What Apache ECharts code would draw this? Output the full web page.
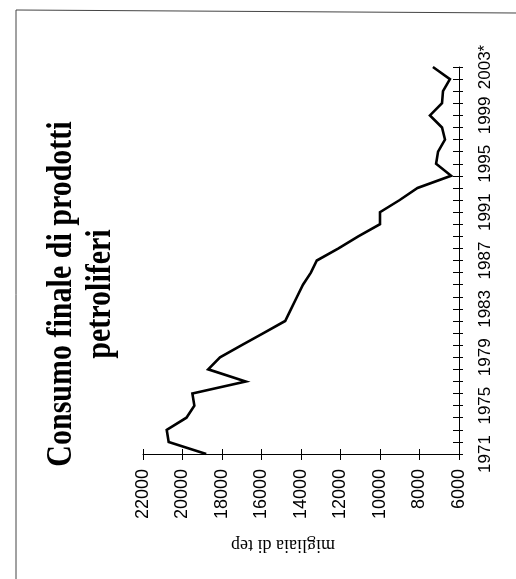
<!DOCTYPE html>
<html><head><meta charset="utf-8">
<script src="https://cdn.jsdelivr.net/npm/echarts@6/dist/echarts.min.js"></script>
<style>html,body{margin:0;padding:0;background:#fff}#c{width:516px;height:579px}</style>
</head><body><div id="c"></div>
<script>
// Years (category axis) — last one marked provisional
const years = ['1971','1972','1973','1974','1975','1976','1977','1978','1979','1980',
  '1981','1982','1983','1984','1985','1986','1987','1988','1989','1990',
  '1991','1992','1993','1994','1995','1996','1997','1998','1999','2000',
  '2001','2002','2003*'];
// Consumo finale di prodotti petroliferi (migliaia di tep)
const consumo = [18800,20700,20800,19800,19400,19500,16800,18700,18100,17000,
  15900,14800,14500,14200,13900,13500,13200,12100,11100,10000,
  10000,9000,8100,6400,7160,7060,6710,6860,7470,6860,
  6810,6460,7320];
const valueMin = 6000, valueMax = 22000, valueStep = 2000;
const titleText = 'Consumo finale di prodotti\npetroliferi';
const axisNameText = 'migliaia di tep';

const sans = "'Liberation Sans Narrow','Liberation Sans',Arial,sans-serif";
const serif = "'Liberation Serif','Times New Roman',serif";

const chart = echarts.init(document.getElementById('c'));
const valueAxisBase = {
  type: 'value', position: 'bottom', inverse: true,
  min: valueMin, max: valueMax, interval: valueStep,
  splitLine: {show: false}
};
const catAxisBase = {
  type: 'category', position: 'right', data: years, boundaryGap: false,
  splitLine: {show: false}
};
chart.setOption({
  animation: false,
  backgroundColor: '#fff',
  grid: {left: 143, right: 57, top: 67, bottom: 125, containLabel: false},
  xAxis: [
    Object.assign({}, valueAxisBase, {
      axisLine: {show: true, lineStyle: {color: '#000', width: 1}},
      axisTick: {show: true, inside: false, length: 6, lineStyle: {color: '#000', width: 1}},
      axisLabel: {rotate: 90, margin: 15, color: '#000', fontSize: 18, fontFamily: sans,
        formatter: v => String(v)}
    }),
    Object.assign({}, valueAxisBase, {
      axisLine: {show: false},
      axisTick: {show: true, inside: true, length: 5, lineStyle: {color: '#000', width: 1}},
      axisLabel: {show: false}
    })
  ],
  yAxis: [
    Object.assign({}, catAxisBase, {
      axisLine: {show: true, lineStyle: {color: '#000', width: 1}},
      axisTick: {show: true, inside: false, length: 4, interval: 0, lineStyle: {color: '#000', width: 1}},
      axisLabel: {rotate: 90, interval: 3, margin: 18, color: '#000', fontSize: 17, fontFamily: sans}
    }),
    Object.assign({}, catAxisBase, {
      axisLine: {show: false},
      axisTick: {show: true, inside: true, length: 6, interval: 0, lineStyle: {color: '#000', width: 1}},
      axisLabel: {show: false}
    })
  ],
  series: [{
    type: 'line', xAxisIndex: 0, yAxisIndex: 0,
    data: consumo.map((v, i) => [v, years[i]]),
    symbol: 'none', silent: true,
    lineStyle: {color: '#000', width: 2.6, join: 'miter'}
  }],
  graphic: [
    {type: 'polyline', silent: true,
     shape: {points: [[16, 579], [16, 10], [516, 13]]},
     style: {stroke: '#444', lineWidth: 1, fill: null}},
    {type: 'text', x: 81, y: 294, rotation: Math.PI / 2, scaleY: 1.2, silent: true,
     style: {text: titleText, font: "bold 30px " + serif, fill: '#000',
       align: 'center', verticalAlign: 'middle', lineHeight: 33}},
    {type: 'text', x: 283, y: 545, rotation: Math.PI, silent: true,
     style: {text: axisNameText, font: "18px " + serif, fill: '#000',
       align: 'center', verticalAlign: 'middle'}}
  ]
});
</script></body></html>
